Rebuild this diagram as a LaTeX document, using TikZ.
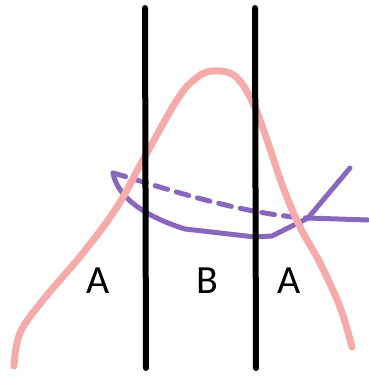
\documentclass[tikz,border=0pt]{standalone}
\usepackage{fontspec}
\setmainfont{Carlito}
\usepackage{tikz}
\definecolor{bell}{HTML}{F5ABAA}
\definecolor{curv}{HTML}{8867BD}
\tikzset{
  cut/.style={line width=6pt,line cap=round,draw=black},
  bellline/.style={line width=7pt,line cap=round,draw=bell},
  curvline/.style={line width=5pt,line cap=round,line join=round,draw=curv},
  zone/.style={font=\fontsize{40}{40}\selectfont,inner sep=0pt},
}
\begin{document}
\begin{tikzpicture}[x=1pt,y=-1pt]
  \useasboundingbox (0,0) rectangle (368,376);
  % purple curves
  \coordinate (tip) at (113,173);
  \coordinate (knot) at (308,218);
  \draw[curvline] (tip) .. controls (118,200) and (150,218) .. (185,229)
    -- (255,237) -- (272,236) -- (knot);
  \draw[curvline,dash pattern=on 13pt off 9pt] (tip) .. controls (150,183) and (235,214) .. (knot);
  \draw[curvline] (knot) -- (350,168);
  \draw[curvline] (knot) -- (368,220);
  % pink bell
  \draw[bellline] plot[smooth,tension=0.6] coordinates {(14,366) (20,333) (43,300)
    (83,253) (117,207) (143,160) (177,100) (195,79) (212,71) (235,76) (253,103)
    (267,140) (283,187) (300,227) (320,263) (340,307) (352,347)};
  % cut lines
  \draw[cut] (145,8) -- (146,368);
  \draw[cut] (255,8) -- (256,368);
  % zone labels
  \node[zone] (a1) at (98,281) {A};
  \node[zone] (b) at (207,281) {B};
  \node[zone] (a2) at (289,281) {A};
\end{tikzpicture}
\end{document}
